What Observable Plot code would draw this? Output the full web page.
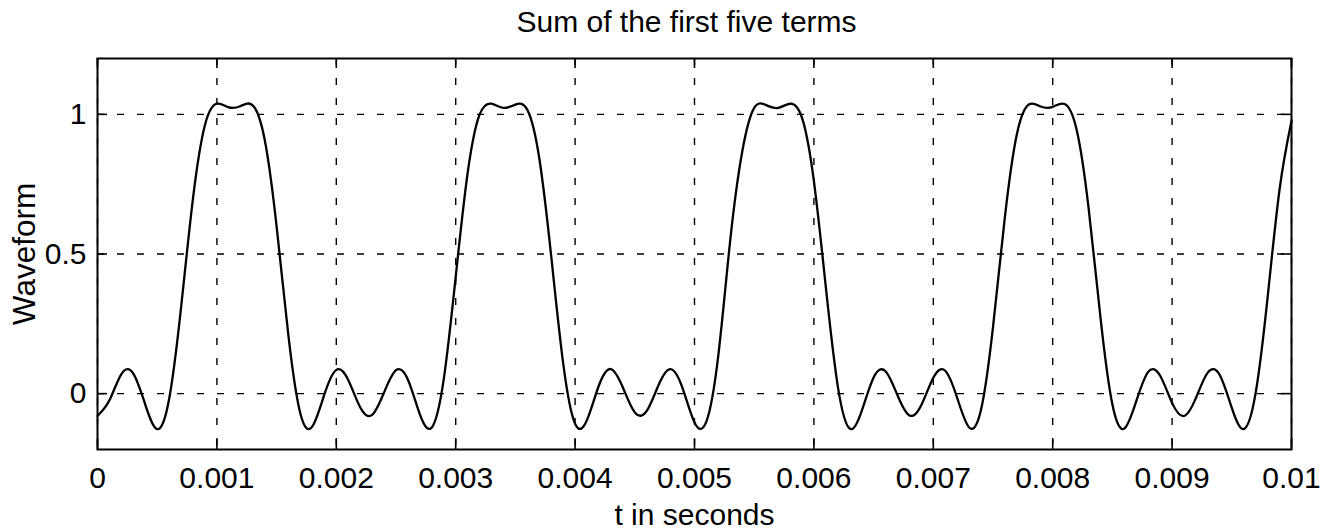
<!DOCTYPE html>
<html>
<head>
<meta charset="utf-8">
<script src="https://cdn.jsdelivr.net/npm/d3@7"></script>
<script src="https://cdn.jsdelivr.net/npm/@observablehq/plot@0.6"></script>
<style>
  html, body { margin: 0; padding: 0; background: #fff; }
  #chart svg { display: block; }
</style>
</head>
<body>
<div id="chart"></div>
<script>
// ---- texts ----
const titleText = "Sum of the first five terms";
const xLabel = "t in seconds";
const yLabel = "Waveform";

// ---- ticks ----
const xTicks = [0, 0.001, 0.002, 0.003, 0.004, 0.005, 0.006, 0.007, 0.008, 0.009, 0.01];
const xTickLabels = ["0", "0.001", "0.002", "0.003", "0.004", "0.005", "0.006", "0.007", "0.008", "0.009", "0.01"];
const yTicks = [0, 0.5, 1];
const yTickLabels = ["0", "0.5", "1"];

// ---- series ----
const tSeconds = [
  0, 0.0001, 0.0002, 0.0003, 0.0004, 0.0005, 0.0006, 0.0007, 0.0008, 0.0009,
  0.0010, 0.0011, 0.0012, 0.0013, 0.0014, 0.0015, 0.0016, 0.0017, 0.0018, 0.0019,
  0.0020, 0.0021, 0.0022, 0.0023, 0.0024, 0.0025, 0.0026, 0.0027, 0.0028, 0.0029,
  0.0030, 0.0031, 0.0032, 0.0033, 0.0034, 0.0035, 0.0036, 0.0037, 0.0038, 0.0039,
  0.0040, 0.0041, 0.0042, 0.0043, 0.0044, 0.0045, 0.0046, 0.0047, 0.0048, 0.0049,
  0.0050, 0.0051, 0.0052, 0.0053, 0.0054, 0.0055, 0.0056, 0.0057, 0.0058, 0.0059,
  0.0060, 0.0061, 0.0062, 0.0063, 0.0064, 0.0065, 0.0066, 0.0067, 0.0068, 0.0069,
  0.0070, 0.0071, 0.0072, 0.0073, 0.0074, 0.0075, 0.0076, 0.0077, 0.0078, 0.0079,
  0.0080, 0.0081, 0.0082, 0.0083, 0.0084, 0.0085, 0.0086, 0.0087, 0.0088, 0.0089,
  0.0090, 0.0091, 0.0092, 0.0093, 0.0094, 0.0095, 0.0096, 0.0097, 0.0098, 0.0099,
  0.0100
];
const waveform = [
  -0.080, -0.024, 0.070, 0.072, -0.039, -0.127, -0.019, 0.309, 0.700, 0.962,
  1.038, 1.025, 1.030, 1.032, 0.910, 0.599, 0.204, -0.073, -0.117, -0.003,
  0.085, 0.049, -0.049, -0.076, 0.004, 0.084, 0.050, -0.074, -0.121, 0.052,
  0.418, 0.790, 0.999, 1.038, 1.023, 1.035, 1.016, 0.843, 0.492, 0.109,
  -0.108, -0.094, 0.030, 0.088, 0.022, -0.067, -0.062, 0.032, 0.088, 0.020,
  -0.103, -0.099, 0.139, 0.552, 0.867, 1.023, 1.033, 1.023, 1.038, 0.988,
  0.761, 0.381, 0.027, -0.125, -0.063, 0.058, 0.080, -0.006, -0.078, -0.041,
  0.057, 0.082, -0.015, -0.121, -0.057, 0.238, 0.634, 0.929, 1.035, 1.028,
  1.027, 1.037, 0.946, 0.667, 0.273, -0.039, -0.125, -0.027, 0.078, 0.064,
  -0.033, -0.080, -0.015, 0.076, 0.066, -0.051, -0.127, 0.003, 0.345, 0.731,
  0.976
];

const data = tSeconds.map((t, i) => ({t, v: waveform[i]}));

// ---- layout ----
const W = 1335, H = 530;
const mL = 97, mR = 44, mT = 58, mB = 81;
const innerW = W - mL - mR, innerH = H - mT - mB;
const tickLen = 10;
const font = "'Liberation Sans', Arial, Helvetica, sans-serif";

const chart = Plot.plot({
  width: W,
  height: H,
  marginLeft: mL,
  marginRight: mR,
  marginTop: mT,
  marginBottom: mB,
  style: {fontFamily: font, fontSize: "30px", background: "#fff", color: "#000", overflow: "visible"},
  x: {domain: [0, 0.01]},
  y: {domain: [-0.2, 1.2]},
  marks: [
    // dashed grid
    Plot.ruleX(xTicks, {x: d => d, stroke: "#000", strokeWidth: 1.4, strokeDasharray: "7,13"}),
    Plot.ruleY(yTicks, {y: d => d, stroke: "#000", strokeWidth: 1.4, strokeDasharray: "7,13"}),
    // inward ticks on all four sides
    Plot.tickX(xTicks, {x: d => d, insetTop: innerH - tickLen, stroke: "#000", strokeWidth: 1.6}),
    Plot.tickX(xTicks, {x: d => d, insetBottom: innerH - tickLen, stroke: "#000", strokeWidth: 1.6}),
    Plot.tickY(yTicks, {y: d => d, insetRight: innerW - tickLen, stroke: "#000", strokeWidth: 1.6}),
    Plot.tickY(yTicks, {y: d => d, insetLeft: innerW - tickLen, stroke: "#000", strokeWidth: 1.6}),
    // waveform
    Plot.line(data, {x: "t", y: "v", curve: "natural", stroke: "#000", strokeWidth: 2.3}),
    // frame
    Plot.frame({stroke: "#000", strokeWidth: 2}),
    // axes
    Plot.axisX({ticks: xTicks, tickFormat: d => xTickLabels[xTicks.indexOf(d)], tickSize: 0, tickPadding: 17, fontSize: 30, label: null}),
    Plot.axisY({ticks: yTicks, tickFormat: d => yTickLabels[yTicks.indexOf(d)], tickSize: 0, tickPadding: 11, fontSize: 30, label: null}),
    // labels
    Plot.text([xLabel], {text: d => d, frameAnchor: "bottom", textAnchor: "middle", lineAnchor: "bottom", dy: 75, fontSize: 30}),
    Plot.text([yLabel], {text: d => d, frameAnchor: "left", textAnchor: "middle", lineAnchor: "bottom", rotate: -90, dx: -63, fontSize: 31.5}),
    Plot.text([titleText], {text: d => d, frameAnchor: "top", textAnchor: "middle", lineAnchor: "bottom", dy: -27, dx: -8, fontSize: 30})
  ]
});

document.getElementById("chart").appendChild(chart);
</script>
</body>
</html>
